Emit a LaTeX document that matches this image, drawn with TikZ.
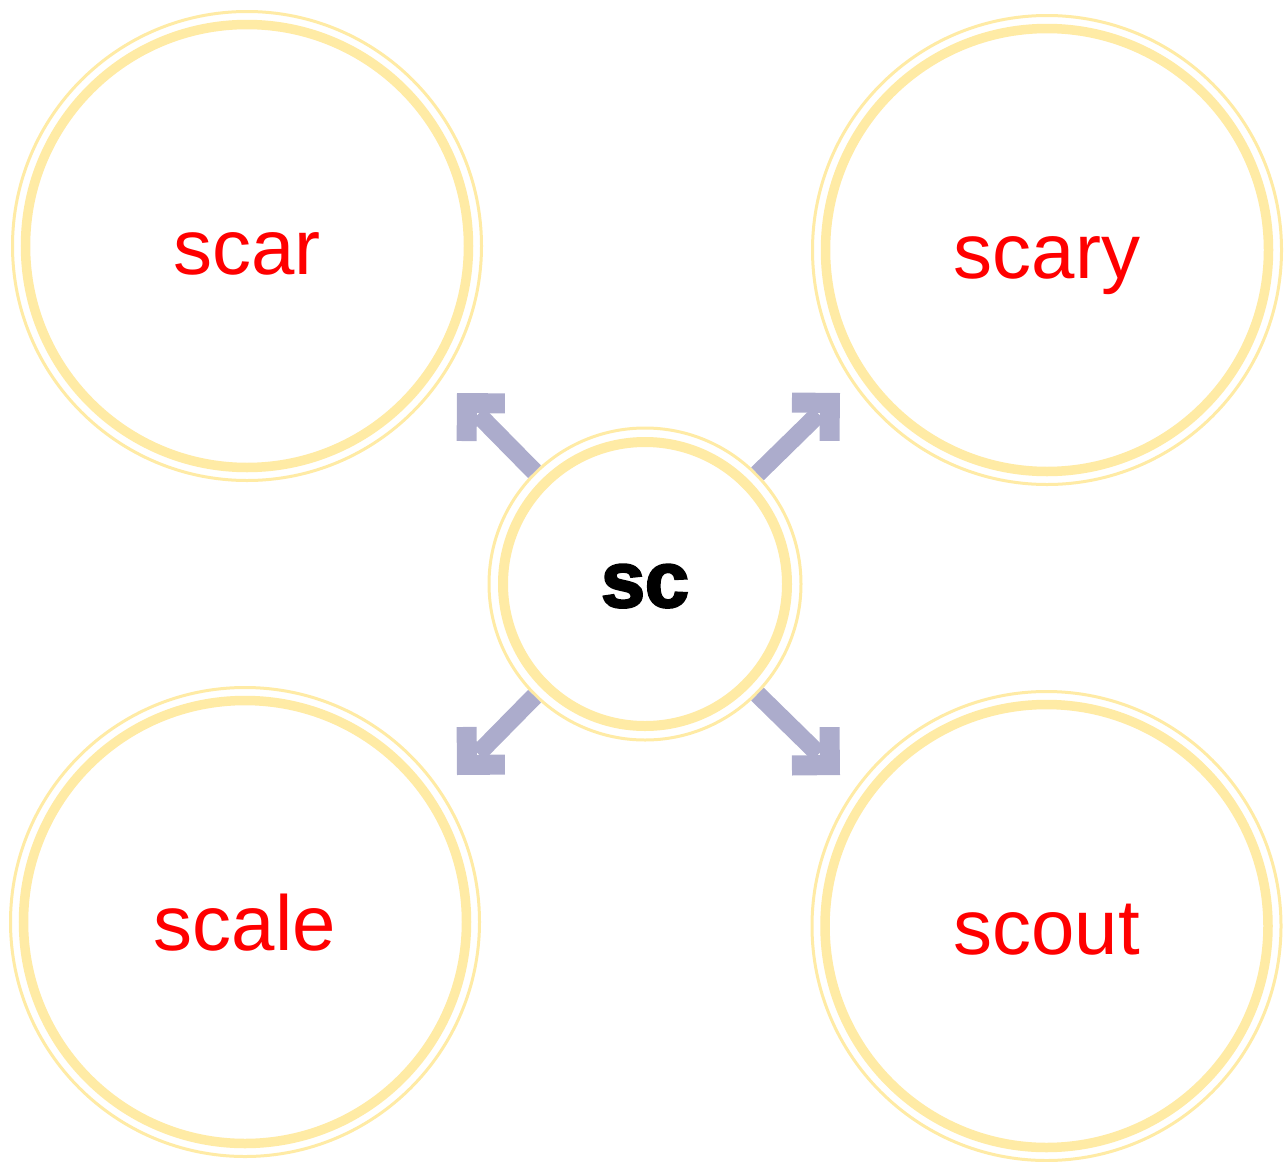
\documentclass[tikz,border=0pt]{standalone}
\usepackage{fontspec}
\setmainfont{Liberation Sans}
\newfontfamily\heavy{Liberation Sans}[BoldFeatures={FakeBold=3}]
\usetikzlibrary{arrows.meta}
\definecolor{ringcol}{HTML}{FFEBA5}
\definecolor{arrcol}{HTML}{ACACCC}
\pgfdeclarearrow{
  name = Chev,
  setup code = {
    \pgfarrowssettipend{0pt}
    \pgfarrowssetlineend{-30pt}
    \pgfarrowssetbackend{-48.1pt}
    \pgfarrowssetvisualbackend{-28.3pt}
    \pgfarrowsupperhullpoint{0pt}{0pt}
    \pgfarrowsupperhullpoint{-33.9pt}{33.9pt}
    \pgfarrowsupperhullpoint{-48.1pt}{19.8pt}
  },
  drawing code = {
    \pgfpathmoveto{\pgfqpoint{0pt}{0pt}}
    \pgfpathlineto{\pgfqpoint{-33.9pt}{33.9pt}}
    \pgfpathlineto{\pgfqpoint{-48.1pt}{19.8pt}}
    \pgfpathlineto{\pgfqpoint{-28.3pt}{0pt}}
    \pgfpathlineto{\pgfqpoint{-48.1pt}{-19.8pt}}
    \pgfpathlineto{\pgfqpoint{-33.9pt}{-33.9pt}}
    \pgfpathclose
    \pgfusepathqfill
  }
}
\tikzset{
  ring/.style n args={3}{circle, draw=ringcol, line width=3pt, fill=white,
    inner sep=0pt, minimum size=#1,
    path picture={\draw[ringcol, line width=#3] (path picture bounding box.center) circle[radius=#2];}},
  bigword/.style={ring={469pt}{221.5pt}{9.5pt}, text=red,
    font=\fontsize{78}{80}\selectfont, text height=60pt, text depth=4pt},
  centerword/.style={ring={312pt}{142pt}{10pt}, text=black,
    font=\heavy\bfseries\fontsize{79}{80}\selectfont, text height=50pt, text depth=4pt},
  conn/.style={color=arrcol, line width=18pt, -Chev}
}
\begin{document}
\begin{tikzpicture}[x=1pt,y=-1pt]
\useasboundingbox (0,0) rectangle (1288,1162);
\node[bigword] (scar) at (247,246) {scar};
\node[bigword] (scary) at (1047,250) {scary};
\node[bigword] (scale) at (245,922) {scale};
\node[bigword] (scout) at (1046.5,926) {scout};
\node[centerword] (sc) at (645,584) {sc};
\coordinate (tUL) at (457,393);
\coordinate (tUR) at (840,393);
\coordinate (tLL) at (457,775);
\coordinate (tLR) at (840,775);
\draw[conn] (sc) -- (tUL);
\draw[conn] (sc) -- (tUR);
\draw[conn] (sc) -- (tLL);
\draw[conn] (sc) -- (tLR);
\end{tikzpicture}
\end{document}
